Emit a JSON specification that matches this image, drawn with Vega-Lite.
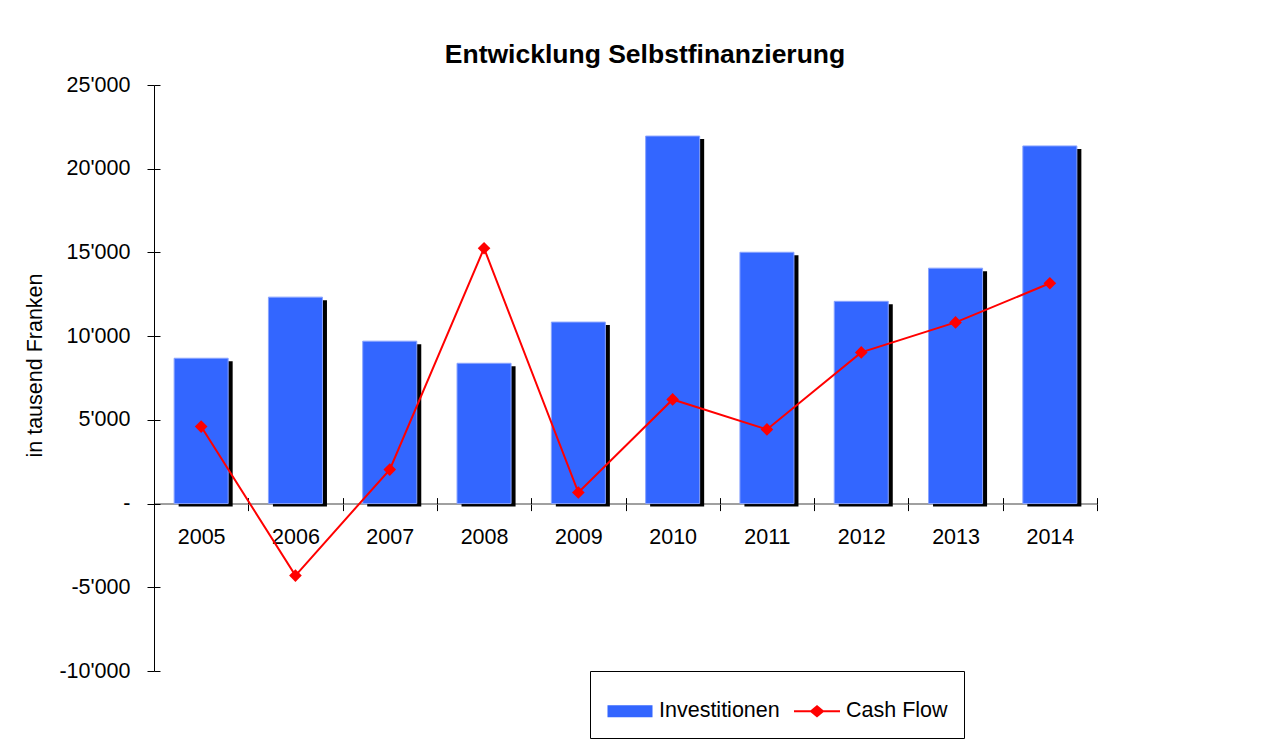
{
  "$schema": "https://vega.github.io/schema/vega-lite/v6.json",
  "autosize": {"type": "none"},
  "padding": {"left": 154, "top": 85, "right": 190, "bottom": 78},
  "width": 943,
  "height": 586,
  "background": "white",
  "title": {
    "text": "Entwicklung Selbstfinanzierung",
    "font": "Liberation Sans",
    "fontSize": 26.5,
    "fontWeight": "bold",
    "color": "black",
    "anchor": "middle",
    "frame": "group",
    "baseline": "alphabetic",
    "dx": 19.5,
    "dy": 37,
    "offset": 22
  },
  "config": {
    "font": "Liberation Sans",
    "view": {"stroke": null},
    "locale": {
      "number": {"decimal": ".", "thousands": "'", "grouping": [3], "currency": ["", ""], "minus": "-"}
    },
    "axis": {"labelFont": "Liberation Sans", "titleFont": "Liberation Sans", "labelColor": "black", "titleColor": "black", "grid": false, "tickColor": "black"},
    "legend": {
      "title": null,
      "orient": "none",
      "legendX": 436,
      "legendY": 586,
      "direction": "horizontal",
      "strokeColor": "black",
      "fillColor": "white",
      "padding": 16,
      "labelFontSize": 21.5,
      "labelColor": "black",
      "labelFont": "Liberation Sans",
      "labelOffset": 5,
      "columnPadding": 10,
      "symbolSize": 2116,
      "symbolOpacity": 1,
      "symbolStrokeWidth": 2
    }
  },
  "resolve": {"axis": {"x": "independent", "y": "independent"}},
  "data": {
    "values": [
      {"year": "2005", "inv": 8680, "cf": 4600},
      {"year": "2006", "inv": 12330, "cf": -4300},
      {"year": "2007", "inv": 9700, "cf": 2030},
      {"year": "2008", "inv": 8380, "cf": 15250},
      {"year": "2009", "inv": 10840, "cf": 660},
      {"year": "2010", "inv": 21950, "cf": 6220},
      {"year": "2011", "inv": 15010, "cf": 4430},
      {"year": "2012", "inv": 12080, "cf": 9030},
      {"year": "2013", "inv": 14060, "cf": 10820},
      {"year": "2014", "inv": 21360, "cf": 13160}
    ]
  },
  "layer": [
    {
      "mark": {"type": "bar", "width": {"band": 0.573}, "color": "black", "xOffset": 4.5, "x2Offset": 4.5, "yOffset": 3, "y2Offset": 0},
      "encoding": {
        "x": {
          "field": "year",
          "type": "nominal",
          "scale": {"paddingInner": 0, "paddingOuter": 0},
          "axis": {
            "title": null,
            "labelAngle": 0,
            "labelFontSize": 21.5,
            "labelPadding": 16,
            "labelBaseline": "top",
            "offset": -167.4,
            "tickBand": "extent",
            "tickSize": 7,
            "domainColor": "#808080",
            "domainWidth": 1.5
          }
        },
        "y": {
          "field": "inv",
          "type": "quantitative",
          "scale": {"domain": [-10000, 25000], "nice": false, "zero": false},
          "axis": {
            "title": "in tausend Franken",
            "titleFontSize": 21.5,
            "titleFontWeight": "normal",
            "titleX": -119,
            "titleY": 280,
            "titleAngle": -90,
            "titleAlign": "center",
            "titleBaseline": "middle",
            "labelFontSize": 21.5,
            "labelPadding": 17,
            "tickSize": 7,
            "domainColor": "black",
            "values": [-10000, -5000, 0, 5000, 10000, 15000, 20000, 25000],
            "format": ",d",
            "labelExpr": "datum.value == 0 ? '-' : datum.label"
          }
        }
      }
    },
    {
      "mark": {"type": "bar", "width": {"band": 0.573}, "stroke": "#8aa4ff", "strokeWidth": 1},
      "encoding": {
        "x": {
          "field": "year",
          "type": "nominal",
          "axis": {
            "orient": "top",
            "offset": -418.6,
            "title": null,
            "labels": false,
            "domain": false,
            "tickBand": "extent",
            "tickSize": 6
          }
        },
        "y": {
          "field": "inv",
          "type": "quantitative",
          "axis": {
            "orient": "right",
            "offset": -943,
            "title": null,
            "labels": false,
            "domain": false,
            "tickSize": 6,
            "values": [-10000, -5000, 0, 5000, 10000, 15000, 20000, 25000]
          }
        },
        "color": {
          "datum": "Investitionen",
          "type": "nominal",
          "scale": {"domain": ["Investitionen", "Cash Flow"], "range": ["#3366ff", "#ff0000"]}
        }
      }
    },
    {
      "mark": {"type": "line", "strokeWidth": 2},
      "encoding": {
        "x": {"field": "year", "type": "nominal", "axis": null},
        "y": {"field": "cf", "type": "quantitative", "axis": null},
        "color": {"datum": "Cash Flow", "type": "nominal"}
      }
    },
    {
      "mark": {"type": "point", "shape": "diamond", "filled": true, "size": 160, "opacity": 1},
      "encoding": {
        "x": {"field": "year", "type": "nominal", "axis": null},
        "y": {"field": "cf", "type": "quantitative", "axis": null},
        "color": {"datum": "Cash Flow", "type": "nominal"}
      }
    },
    {
      "mark": {"type": "point", "filled": true, "opacity": 0},
      "encoding": {
        "x": {"field": "year", "type": "nominal", "axis": null},
        "y": {"field": "cf", "type": "quantitative", "axis": null},
        "color": {"datum": "Cash Flow", "type": "nominal"},
        "shape": {
          "datum": "Cash Flow",
          "type": "nominal",
          "scale": {
            "domain": ["Investitionen", "Cash Flow"],
            "range": ["M-0.935,-0.217H0.935V0.217H-0.935Z", "M-1,0H1M0,-0.22L0.26,0L0,0.22L-0.26,0Z"]
          }
        }
      }
    }
  ]
}
